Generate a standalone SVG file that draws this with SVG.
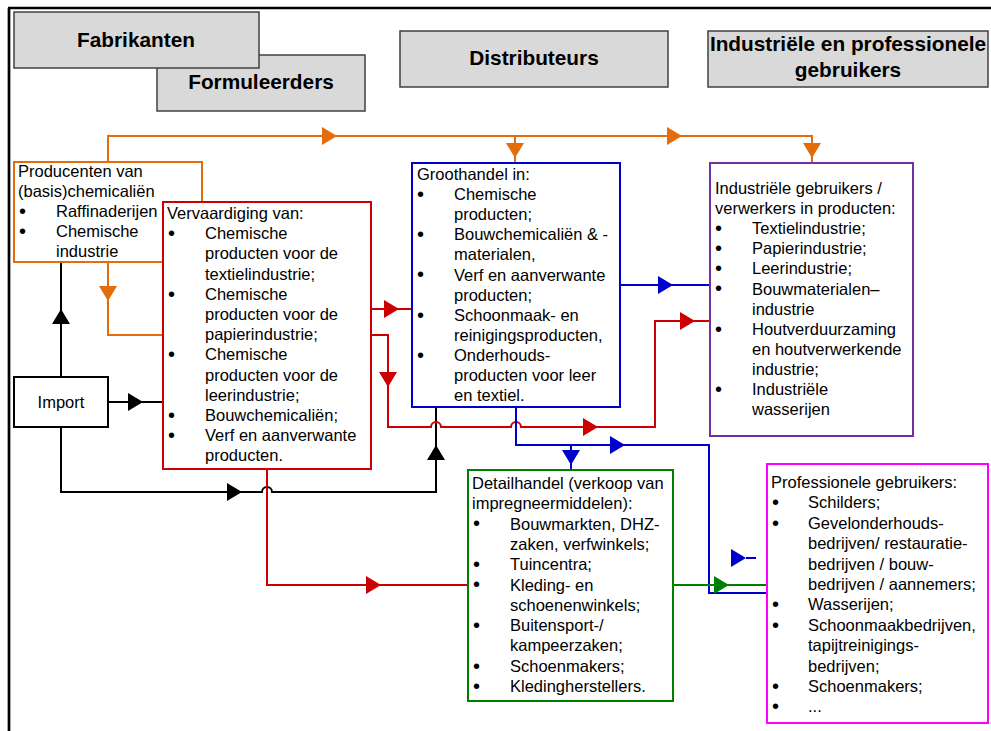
<svg xmlns="http://www.w3.org/2000/svg" xmlns:xlink="http://www.w3.org/1999/xlink" width="991" height="731" viewBox="0 0 991 731">
<style>
text{font-family:"Liberation Sans",Arial,sans-serif;font-size:16.5px;fill:#000}
.h{font-weight:bold;font-size:20.8px;text-anchor:middle}
.b{font-size:20px}
.hb{fill:#d9d9d9;stroke:#404040;stroke-width:1.5}
.box{fill:#fff;stroke-width:2}
.ln{fill:none;stroke-width:2}
.or{stroke:#e46c0a}.orf{fill:#e46c0a}
.bk{stroke:#000}.bkf{fill:#000}
.rd{stroke:#cc0000}.rdf{fill:#cc0000}
.bl{stroke:#0000cc}.blf{fill:#0000cc}
.gr{stroke:#008000}.grf{fill:#008000}
.pu{stroke:#7030a0}
.mg{stroke:#ff00ff}
</style>
<defs>
<path id="ar" d="M0,0 L-15,-9 L-15,9 Z"/>
</defs>
<rect width="991" height="731" fill="#fff"/>
<path d="M8,8 H991 M9,8 V731" stroke="#000" stroke-width="2.7" fill="none"/>

<g id="hdr-formuleerders"><rect class="hb" x="157" y="55" width="208" height="56"/><text class="h" x="261" y="89">Formuleerders</text></g>
<g id="hdr-fabrikanten"><rect class="hb" x="14" y="12" width="245" height="56"/><text class="h" x="136" y="47">Fabrikanten</text></g>
<g id="hdr-distributeurs"><rect class="hb" x="400" y="31" width="268" height="56"/><text class="h" x="534" y="65">Distributeurs</text></g>
<g id="hdr-gebruikers"><rect class="hb" x="708" y="31" width="280" height="56"/><text class="h" x="848" y="51">Industriële en professionele</text><text class="h" x="848" y="77">gebruikers</text></g>

<g id="connectors">
<path class="ln or" d="M108,162 V136 H812 V163 M515,136 V163 M108,262 V335 H163"/>
<use xlink:href="#ar" class="orf" transform="translate(337,136)"/>
<use xlink:href="#ar" class="orf" transform="translate(682,136)"/>
<use xlink:href="#ar" class="orf" transform="translate(515,158) rotate(90)"/>
<use xlink:href="#ar" class="orf" transform="translate(812,158) rotate(90)"/>
<use xlink:href="#ar" class="orf" transform="translate(108,301) rotate(90)"/>

<path class="ln bk" d="M61,377 V262 M108,402 H163 M61,427 V492 H262 A5,5 0 0 1 272,492 H436 V407"/>
<use xlink:href="#ar" class="bkf" transform="translate(61,309) rotate(-90)"/>
<use xlink:href="#ar" class="bkf" transform="translate(143,402)"/>
<use xlink:href="#ar" class="bkf" transform="translate(242,492)"/>
<use xlink:href="#ar" class="bkf" transform="translate(436,445) rotate(-90)"/>

<path class="ln rd" d="M371,309 H412 M371,335 H388 V427 H431 A5,5 0 0 1 441,427 H511 A5,5 0 0 1 521,427 H655 V321 H710 M267,469 V585 H468"/>
<use xlink:href="#ar" class="rdf" transform="translate(399,309)"/>
<use xlink:href="#ar" class="rdf" transform="translate(388,387) rotate(90)"/>
<use xlink:href="#ar" class="rdf" transform="translate(598,427)"/>
<use xlink:href="#ar" class="rdf" transform="translate(695,321)"/>
<use xlink:href="#ar" class="rdf" transform="translate(381,585)"/>

<path class="ln bl" d="M620,285 H710 M516,407 V445 H709 V593 H767 M571,445 V470 M746,558 H756"/>
<use xlink:href="#ar" class="blf" transform="translate(673,285)"/>
<use xlink:href="#ar" class="blf" transform="translate(625,445)"/>
<use xlink:href="#ar" class="blf" transform="translate(571,465) rotate(90)"/>
<use xlink:href="#ar" class="blf" transform="translate(746,558)"/>

<path class="ln gr" d="M673,585 H767"/>
<use xlink:href="#ar" class="grf" transform="translate(729,585)"/>
</g>

<g id="producenten">
<rect class="box or" x="14" y="162" width="188" height="100"/>
<text x="18" y="177">Producenten van</text>
<text x="18" y="197">(basis)chemicaliën</text>
<text class="b" x="19" y="218">•</text><text x="56" y="217">Raffinaderijen</text>
<text class="b" x="19" y="238">•</text><text x="56" y="237">Chemische</text>
<text x="56" y="257">industrie</text>
</g>

<g id="vervaardiging">
<rect class="box rd" x="163" y="202" width="208" height="267"/>
<text x="167" y="219">Vervaardiging van:</text>
<text class="b" x="168" y="240">•</text><text x="205" y="239.2">Chemische</text>
<text x="205" y="259.4">producten voor de</text>
<text x="205" y="279.6">textielindustrie;</text>
<text class="b" x="168" y="300.6">•</text><text x="205" y="299.8">Chemische</text>
<text x="205" y="320">producten voor de</text>
<text x="205" y="340.2">papierindustrie;</text>
<text class="b" x="168" y="361.2">•</text><text x="205" y="360.4">Chemische</text>
<text x="205" y="380.6">producten voor de</text>
<text x="205" y="400.8">leerindustrie;</text>
<text class="b" x="168" y="421.8">•</text><text x="205" y="421">Bouwchemicaliën;</text>
<text class="b" x="168" y="442">•</text><text x="205" y="441.2">Verf en aanverwante</text>
<text x="205" y="461.4">producten.</text>
</g>

<g id="import">
<rect class="box bk" x="14" y="377" width="94" height="50"/>
<text x="61" y="408" text-anchor="middle">Import</text>
</g>

<g id="groothandel">
<rect class="box bl" x="412" y="163" width="208" height="244"/>
<text x="417" y="180">Groothandel in:</text>
<text class="b" x="417" y="200.9">•</text><text x="454" y="200.1">Chemische</text>
<text x="454" y="220.2">producten;</text>
<text class="b" x="417" y="241.1">•</text><text x="454" y="240.3">Bouwchemicaliën &amp; -</text>
<text x="454" y="260.4">materialen,</text>
<text class="b" x="417" y="281.3">•</text><text x="454" y="280.5">Verf en aanverwante</text>
<text x="454" y="300.6">producten;</text>
<text class="b" x="417" y="321.5">•</text><text x="454" y="320.7">Schoonmaak- en</text>
<text x="454" y="340.8">reinigingsproducten,</text>
<text class="b" x="417" y="361.7">•</text><text x="454" y="360.9">Onderhouds-</text>
<text x="454" y="381">producten voor leer</text>
<text x="454" y="401.1">en textiel.</text>
</g>

<g id="industriele">
<rect class="box pu" x="710" y="163" width="203" height="273"/>
<text x="715" y="194">Industriële gebruikers /</text>
<text x="715" y="214.1">verwerkers in producten:</text>
<text class="b" x="715" y="235">•</text><text x="752" y="234.2">Textielindustrie;</text>
<text class="b" x="715" y="255.1">•</text><text x="752" y="254.3">Papierindustrie;</text>
<text class="b" x="715" y="275.2">•</text><text x="752" y="274.4">Leerindustrie;</text>
<text class="b" x="715" y="295.3">•</text><text x="752" y="294.5">Bouwmaterialen–</text>
<text x="752" y="314.6">industrie</text>
<text class="b" x="715" y="335.5">•</text><text x="752" y="334.7">Houtverduurzaming</text>
<text x="752" y="354.8">en houtverwerkende</text>
<text x="752" y="374.9">industrie;</text>
<text class="b" x="715" y="395.8">•</text><text x="752" y="395">Industriële</text>
<text x="752" y="415.1">wasserijen</text>
</g>

<g id="detailhandel">
<rect class="box gr" x="468" y="470" width="205" height="231"/>
<text x="472" y="489">Detailhandel (verkoop van</text>
<text x="472" y="509.3">impregneermiddelen):</text>
<text class="b" x="473" y="530.4">•</text><text x="510" y="529.6">Bouwmarkten, DHZ-</text>
<text x="510" y="549.9">zaken, verfwinkels;</text>
<text class="b" x="473" y="571">•</text><text x="510" y="570.2">Tuincentra;</text>
<text class="b" x="473" y="591.3">•</text><text x="510" y="590.5">Kleding- en</text>
<text x="510" y="610.8">schoenenwinkels;</text>
<text class="b" x="473" y="631.9">•</text><text x="510" y="631.1">Buitensport-/</text>
<text x="510" y="651.4">kampeerzaken;</text>
<text class="b" x="473" y="672.5">•</text><text x="510" y="671.7">Schoenmakers;</text>
<text class="b" x="473" y="692.8">•</text><text x="510" y="692">Kledingherstellers.</text>
</g>

<g id="professionele">
<rect class="box mg" x="767" y="464" width="221" height="259"/>
<text x="771" y="488">Professionele gebruikers:</text>
<text class="b" x="772" y="509.2">•</text><text x="808" y="508.4">Schilders;</text>
<text class="b" x="772" y="529.6">•</text><text x="808" y="528.8">Gevelonderhouds-</text>
<text x="808" y="549.2">bedrijven/ restauratie-</text>
<text x="808" y="569.6">bedrijven / bouw-</text>
<text x="808" y="590">bedrijven / aannemers;</text>
<text class="b" x="772" y="611.2">•</text><text x="808" y="610.4">Wasserijen;</text>
<text class="b" x="772" y="631.6">•</text><text x="808" y="630.8">Schoonmaakbedrijven,</text>
<text x="808" y="651.2">tapijtreinigings-</text>
<text x="808" y="671.6">bedrijven;</text>
<text class="b" x="772" y="692.8">•</text><text x="808" y="692">Schoenmakers;</text>
<text class="b" x="772" y="713.2">•</text><text x="808" y="712.4">...</text>
</g>
</svg>
